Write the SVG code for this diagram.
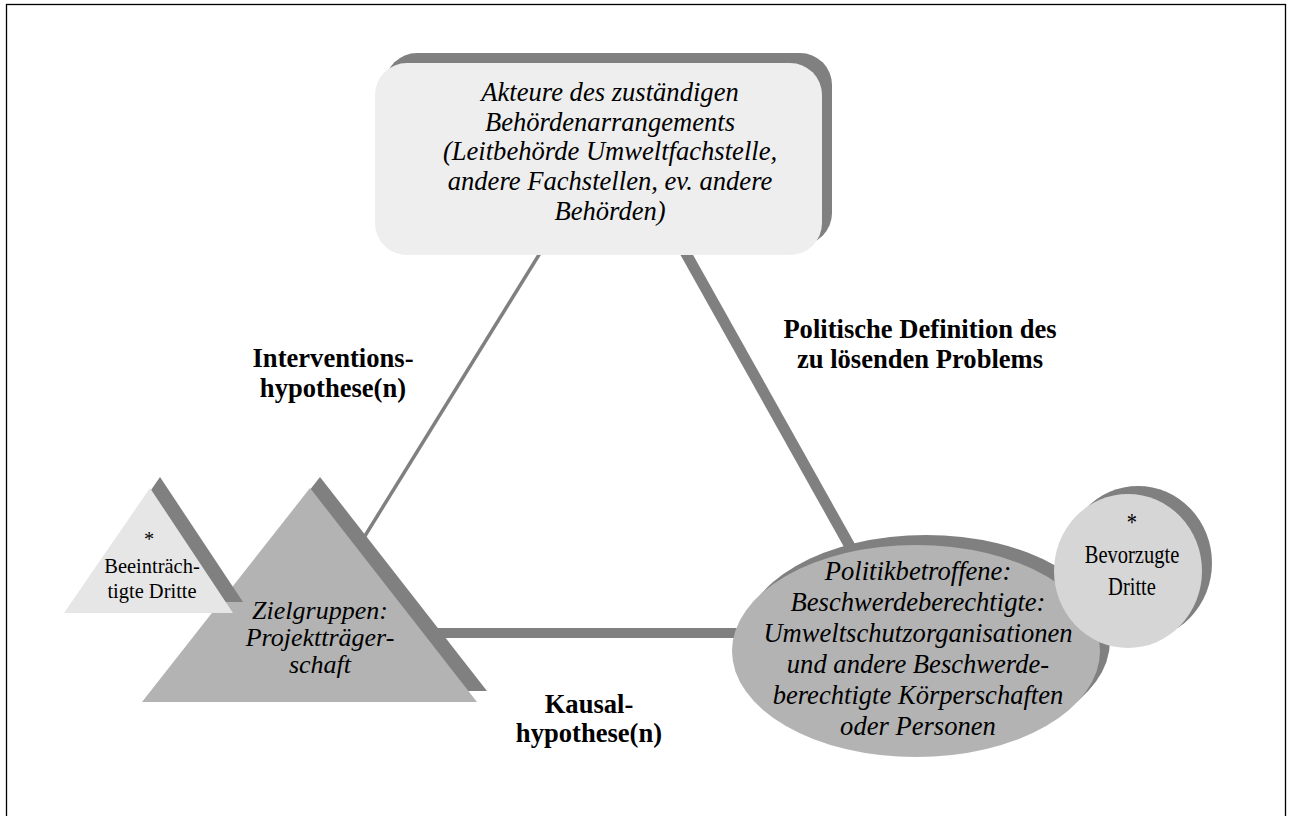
<svg xmlns="http://www.w3.org/2000/svg" width="1292" height="816" viewBox="0 0 1292 816">
<style>
.it{font-family:"Liberation Serif","Times New Roman",serif;font-style:italic;font-size:28px;fill:#000;text-anchor:middle}
.bd{font-family:"Liberation Serif","Times New Roman",serif;font-weight:bold;font-size:28px;fill:#000;text-anchor:middle}
.sm{font-family:"Liberation Serif","Times New Roman",serif;font-size:25px;fill:#000;text-anchor:middle}
.sh{fill:#808080}
</style>
<rect x="6.5" y="4.5" width="1279" height="830" fill="#fff" stroke="#000" stroke-width="1.3"/>
<g id="connectors" stroke="#808080" fill="none">
<line x1="550" y1="237" x2="355" y2="552" stroke-width="3.5"/>
<line x1="670" y1="225" x2="880" y2="600" stroke-width="11"/>
<line x1="430" y1="633" x2="760" y2="633" stroke-width="10"/>
</g>
<g id="labels">
<text class="bd" transform="translate(333 0) scale(0.95 1)"><tspan x="0" y="367">Interventions-</tspan><tspan x="0" y="397">hypothese(n)</tspan></text>
<text class="bd" transform="translate(920 0) scale(0.95 1)"><tspan x="0" y="338">Politische Definition des</tspan><tspan x="0" y="368">zu lösenden Problems</tspan></text>
<text class="bd" transform="translate(589 0) scale(0.95 1)"><tspan x="0" y="713">Kausal-</tspan><tspan x="0" y="742">hypothese(n)</tspan></text>
</g>
<g id="zielgruppen">
<polygon class="sh" points="320,477 487,691 152,691"/>
<polygon points="310,488 477,702 142,702" fill="#b3b3b3"/>
<text class="it" style="font-size:26px"><tspan x="320" y="619">Zielgruppen:</tspan><tspan x="320" y="646">Projektträger-</tspan><tspan x="320" y="673">schaft</tspan></text>
</g>
<g id="beeintraechtigte">
<polygon class="sh" points="160,477 243,602 74,602"/>
<polygon points="150,488 233,613 64,613" fill="#e6e6e6"/>
<text class="sm" style="font-size:22px" transform="translate(152 0) scale(0.93 1)"><tspan x="-3" y="546">*</tspan><tspan x="0" y="573">Beeinträch-</tspan><tspan x="0" y="598">tigte Dritte</tspan></text>
</g>
<g id="akteure">
<rect class="sh" x="385" y="53" width="447" height="192" rx="32"/>
<rect x="375" y="63" width="447" height="192" rx="32" fill="#eeeeee"/>
<text class="it" transform="translate(610 0) scale(0.95 1)"><tspan x="0" y="101">Akteure des zuständigen</tspan><tspan x="0" y="131">Behördenarrangements</tspan><tspan x="0" y="160">(Leitbehörde Umweltfachstelle,</tspan><tspan x="0" y="190">andere Fachstellen,  ev. andere</tspan><tspan x="0" y="220">Behörden)</tspan></text>
</g>
<g id="politikbetroffene">
<ellipse class="sh" cx="926" cy="641" rx="184" ry="106"/>
<ellipse cx="916" cy="651" rx="184" ry="106" fill="#b3b3b3"/>
<text class="it" transform="translate(918 0) scale(0.95 1)"><tspan x="0" y="580">Politikbetroffene:</tspan><tspan x="0" y="611">Beschwerdeberechtigte:</tspan><tspan x="0" y="642">Umweltschutzorganisationen</tspan><tspan x="0" y="673">und andere Beschwerde-</tspan><tspan x="0" y="704">berechtigte Körperschaften</tspan><tspan x="0" y="735">oder Personen</tspan></text>
</g>
<g id="bevorzugte">
<ellipse class="sh" cx="1138" cy="563" rx="74" ry="77"/>
<ellipse cx="1128" cy="571" rx="74" ry="77" fill="#d6d6d6"/>
<text class="sm" transform="translate(1132 0) scale(0.82 1)"><tspan x="0" y="531">*</tspan><tspan x="0" y="563">Bevorzugte</tspan><tspan x="0" y="595">Dritte</tspan></text>
</g>
</svg>
